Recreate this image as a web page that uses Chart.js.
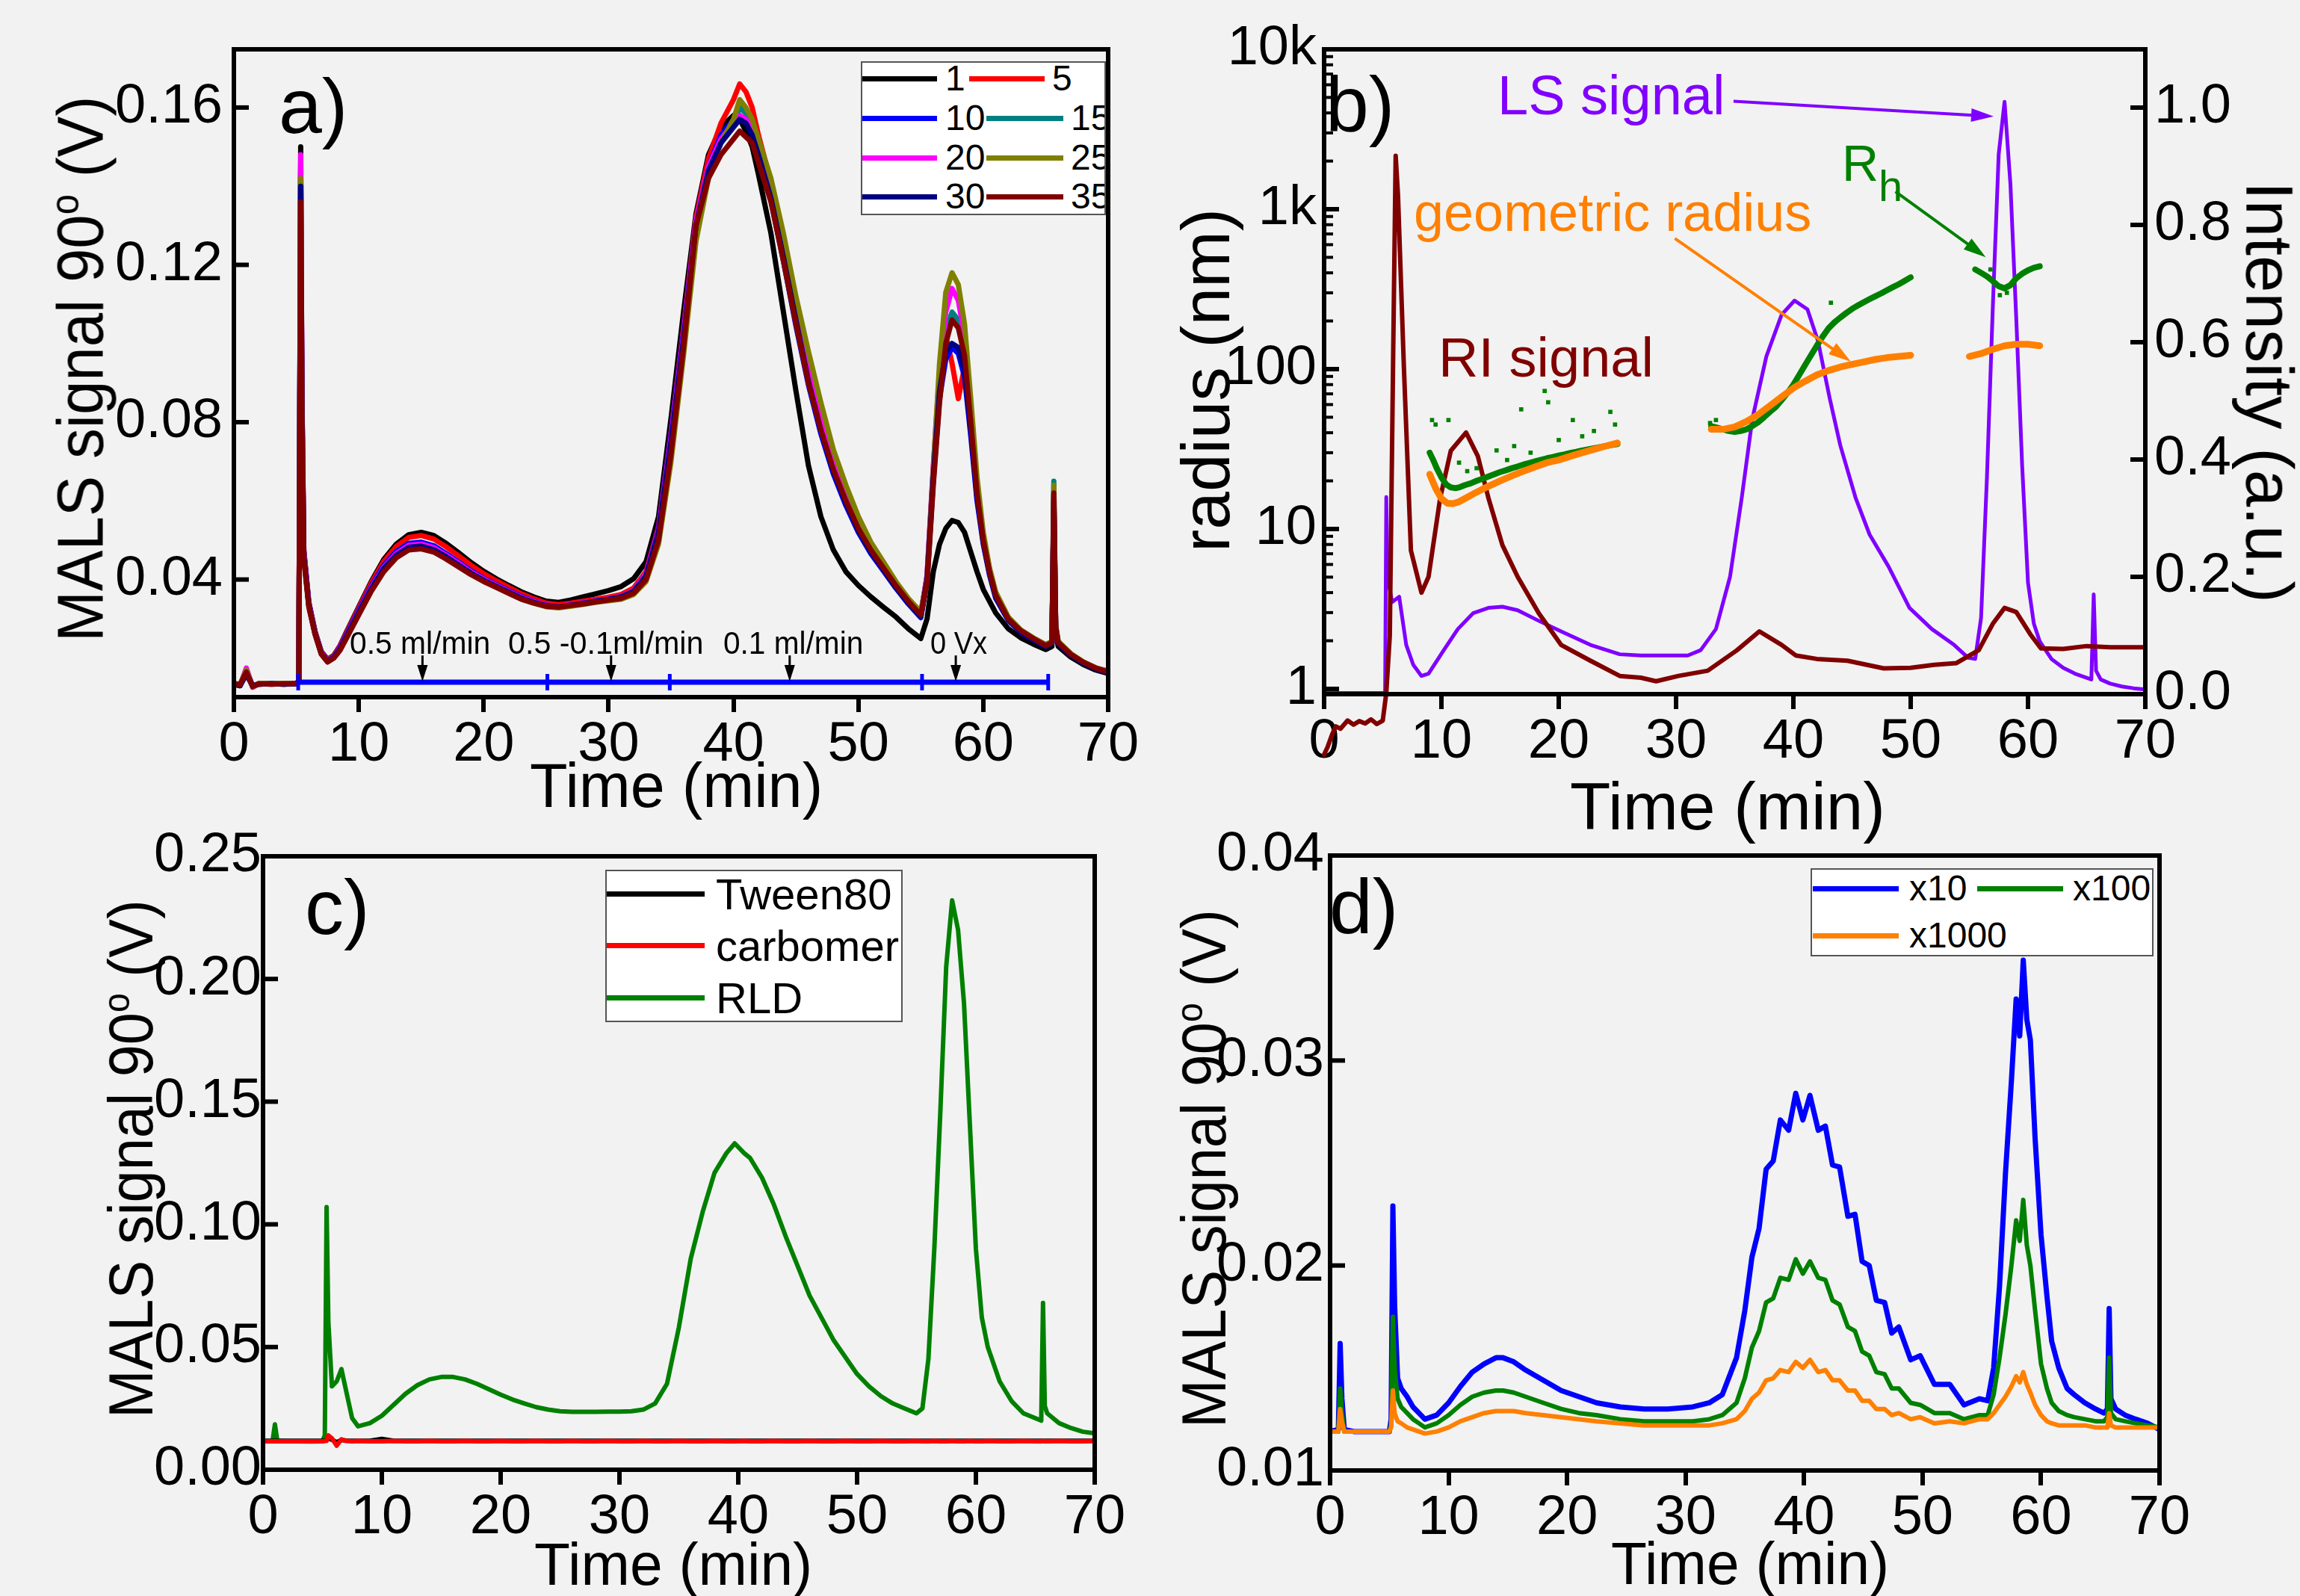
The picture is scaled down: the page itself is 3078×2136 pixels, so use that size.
<!DOCTYPE html>
<html><head><meta charset="utf-8"><title>MALS figure</title>
<script src="https://cdn.jsdelivr.net/npm/chart.js@4.4.1/dist/chart.umd.min.js"></script>
<style>
html,body{margin:0;padding:0;background:#f2f2f2;}
body{width:3078px;height:2136px;position:relative;overflow:hidden;font-family:'Liberation Sans',Arial,Helvetica,sans-serif;}
canvas{position:absolute;}
.t{position:absolute;white-space:nowrap;transform-origin:0 0;color:#000;}
.t sup{font-size:0.6em;position:relative;line-height:0;vertical-align:baseline;top:-0.62em;}
.leg{position:absolute;background:#fff;border:2px solid #555;box-sizing:border-box;overflow:hidden;}
.ll{position:absolute;height:7px;}
</style></head><body>
<canvas id="ca" width="1540" height="1068" style="left:0px;top:0px"></canvas>
<canvas id="cb" width="1538" height="1068" style="left:1540px;top:0px"></canvas>
<canvas id="cc" width="1540" height="1068" style="left:0px;top:1068px"></canvas>
<canvas id="cd" width="1538" height="1068" style="left:1540px;top:1068px"></canvas>
<script>
// ---------------- DATA ----------------
const xTicks = [0,10,20,30,40,50,60,70];
const xLabels = ['0','10','20','30','40','50','60','70'];

// panel a
const yTicksA = [0.04,0.08,0.12,0.16];
const yLabelsA = ['0.04','0.08','0.12','0.16'];
const namesA = ['1','5','10','15','20','25','30','35'];
const tA = [0,0.5,1,1.5,2,3,4,5,5.2,5.35,
 5.45,5.6,6,6.5,7,7.5,8,8.5,9,10,
 11,12,13,14,15,16,17,18,19,20,
 21,22,23,24,25,26,27,28,29,30,
 31,32,33,34,35,36,37,38,39,40,
 40.5,41,41.5,42,43,44,45,46,47,48,
 49,50,51,52,53,54,55,55.5,56,56.5,
 57,57.5,58,58.5,59,59.5,60,60.5,61,62,
 63,64,65,65.5,65.65,65.8,66,67,68,69,
 70];
const a1 = [0.0134,0.0130,0.0172,0.0129,0.0134,0.0135,0.0134,0.0135,0.0143,0.1500,
 0.0870,0.0475,0.0343,0.0268,0.0217,0.0197,0.0207,0.0232,0.0266,0.0331,
 0.0395,0.0451,0.0490,0.0514,0.0520,0.0512,0.0492,0.0468,0.0443,0.0421,
 0.0402,0.0385,0.0369,0.0356,0.0345,0.0342,0.0348,0.0356,0.0364,0.0372,
 0.0382,0.0402,0.0445,0.0560,0.0810,0.1080,0.1330,0.1480,0.1550,0.1580,
 0.1570,0.1540,0.1500,0.1430,0.1280,0.1080,0.0880,0.0690,0.0560,0.0475,
 0.0420,0.0385,0.0356,0.0330,0.0305,0.0275,0.0250,0.0300,0.0420,0.0490,
 0.0530,0.0550,0.0545,0.0520,0.0470,0.0420,0.0375,0.0345,0.0315,0.0275,
 0.0252,0.0236,0.0222,0.0230,0.0560,0.0265,0.0230,0.0203,0.0184,0.0170,
 0.0161];
const a5 = [0.0136,0.0133,0.0168,0.0127,0.0136,0.0135,0.0136,0.0135,0.0141,0.1450,
 0.0860,0.0472,0.0341,0.0267,0.0216,0.0196,0.0206,0.0231,0.0264,0.0328,
 0.0391,0.0446,0.0484,0.0507,0.0512,0.0503,0.0483,0.0460,0.0436,0.0415,
 0.0397,0.0380,0.0364,0.0351,0.0340,0.0336,0.0340,0.0345,0.0350,0.0355,
 0.0362,0.0378,0.0420,0.0535,0.0775,0.1040,0.1320,0.1470,0.1560,0.1620,
 0.1660,0.1640,0.1600,0.1530,0.1410,0.1240,0.1070,0.0920,0.0790,0.0685,
 0.0603,0.0533,0.0478,0.0432,0.0386,0.0345,0.0309,0.0410,0.0680,0.0920,
 0.1020,0.0950,0.0860,0.0940,0.0820,0.0640,0.0510,0.0426,0.0363,0.0303,
 0.0271,0.0251,0.0234,0.0241,0.0600,0.0280,0.0241,0.0211,0.0190,0.0175,
 0.0165];
const a10 = [0.0135,0.0132,0.0158,0.0130,0.0135,0.0135,0.0135,0.0135,0.0142,0.1440,
 0.0850,0.0468,0.0338,0.0265,0.0214,0.0194,0.0204,0.0228,0.0260,0.0322,
 0.0383,0.0436,0.0471,0.0492,0.0495,0.0486,0.0466,0.0444,0.0422,0.0403,
 0.0387,0.0372,0.0357,0.0345,0.0335,0.0331,0.0335,0.0340,0.0345,0.0350,
 0.0356,0.0372,0.0415,0.0530,0.0770,0.1030,0.1310,0.1450,0.1530,0.1570,
 0.1580,0.1565,0.1535,0.1475,0.1365,0.1210,0.1045,0.0895,0.0770,0.0668,
 0.0588,0.0520,0.0466,0.0422,0.0378,0.0338,0.0303,0.0395,0.0650,0.0860,
 0.0960,0.0990,0.0975,0.0915,0.0765,0.0600,0.0490,0.0412,0.0352,0.0296,
 0.0266,0.0247,0.0230,0.0238,0.0615,0.0276,0.0238,0.0208,0.0188,0.0173,
 0.0163];
const a15 = [0.0134,0.0132,0.0162,0.0129,0.0134,0.0135,0.0135,0.0135,0.0141,0.1430,
 0.0840,0.0465,0.0336,0.0263,0.0212,0.0192,0.0202,0.0225,0.0256,0.0318,
 0.0378,0.0430,0.0465,0.0486,0.0489,0.0480,0.0461,0.0440,0.0418,0.0400,
 0.0384,0.0369,0.0354,0.0343,0.0333,0.0330,0.0334,0.0339,0.0344,0.0349,
 0.0354,0.0368,0.0408,0.0515,0.0745,0.1010,0.1300,0.1445,0.1515,0.1560,
 0.1600,0.1585,0.1555,0.1500,0.1395,0.1245,0.1085,0.0935,0.0810,0.0705,
 0.0620,0.0547,0.0488,0.0440,0.0393,0.0350,0.0314,0.0405,0.0670,0.0900,
 0.1030,0.1080,0.1060,0.0990,0.0815,0.0632,0.0505,0.0422,0.0360,0.0301,
 0.0270,0.0250,0.0233,0.0241,0.0650,0.0282,0.0242,0.0211,0.0190,0.0175,
 0.0166];
const a20 = [0.0135,0.0131,0.0175,0.0126,0.0135,0.0134,0.0135,0.0136,0.0143,0.1480,
 0.0860,0.0470,0.0338,0.0264,0.0213,0.0193,0.0203,0.0226,0.0257,0.0318,
 0.0379,0.0431,0.0466,0.0487,0.0490,0.0481,0.0462,0.0441,0.0419,0.0401,
 0.0385,0.0370,0.0355,0.0344,0.0335,0.0332,0.0336,0.0341,0.0346,0.0351,
 0.0357,0.0372,0.0415,0.0525,0.0760,0.1020,0.1310,0.1450,0.1520,0.1560,
 0.1580,0.1570,0.1545,0.1495,0.1390,0.1240,0.1080,0.0930,0.0805,0.0700,
 0.0615,0.0542,0.0484,0.0437,0.0390,0.0348,0.0312,0.0410,0.0690,0.0930,
 0.1080,0.1140,0.1110,0.1020,0.0830,0.0640,0.0508,0.0425,0.0362,0.0302,
 0.0270,0.0250,0.0233,0.0240,0.0610,0.0280,0.0241,0.0211,0.0190,0.0175,
 0.0168];
const a25 = [0.0136,0.0134,0.0170,0.0127,0.0136,0.0135,0.0136,0.0135,0.0141,0.1420,
 0.0820,0.0460,0.0332,0.0262,0.0211,0.0191,0.0201,0.0222,0.0252,0.0313,
 0.0373,0.0424,0.0459,0.0479,0.0482,0.0474,0.0456,0.0436,0.0415,0.0397,
 0.0381,0.0366,0.0351,0.0340,0.0331,0.0328,0.0332,0.0337,0.0342,0.0346,
 0.0350,0.0362,0.0395,0.0490,0.0700,0.0970,0.1260,0.1420,0.1510,0.1570,
 0.1620,0.1600,0.1570,0.1520,0.1420,0.1280,0.1120,0.0980,0.0850,0.0730,
 0.0640,0.0560,0.0495,0.0445,0.0395,0.0352,0.0318,0.0400,0.0680,0.0950,
 0.1130,0.1180,0.1150,0.1050,0.0860,0.0660,0.0520,0.0430,0.0368,0.0305,
 0.0272,0.0252,0.0235,0.0242,0.0640,0.0285,0.0243,0.0212,0.0191,0.0176,
 0.0166];
const a30 = [0.0134,0.0130,0.0160,0.0130,0.0134,0.0135,0.0134,0.0135,0.0142,0.1400,
 0.0820,0.0460,0.0335,0.0262,0.0212,0.0192,0.0202,0.0224,0.0255,0.0316,
 0.0376,0.0428,0.0462,0.0482,0.0485,0.0476,0.0458,0.0437,0.0416,0.0398,
 0.0383,0.0368,0.0353,0.0342,0.0334,0.0331,0.0335,0.0340,0.0345,0.0350,
 0.0356,0.0370,0.0410,0.0520,0.0750,0.1010,0.1300,0.1440,0.1510,0.1550,
 0.1570,0.1560,0.1530,0.1480,0.1370,0.1220,0.1060,0.0905,0.0780,0.0675,
 0.0595,0.0525,0.0470,0.0425,0.0380,0.0340,0.0305,0.0400,0.0660,0.0880,
 0.0980,0.1000,0.0990,0.0930,0.0780,0.0610,0.0495,0.0415,0.0355,0.0298,
 0.0268,0.0248,0.0230,0.0238,0.0600,0.0275,0.0238,0.0208,0.0188,0.0173,
 0.0163];
const a35 = [0.0135,0.0133,0.0165,0.0128,0.0135,0.0134,0.0135,0.0135,0.0140,0.1360,
 0.0800,0.0450,0.0330,0.0260,0.0210,0.0190,0.0200,0.0220,0.0250,0.0310,
 0.0370,0.0420,0.0455,0.0475,0.0478,0.0470,0.0452,0.0432,0.0412,0.0395,
 0.0380,0.0365,0.0350,0.0340,0.0332,0.0330,0.0334,0.0338,0.0343,0.0348,
 0.0352,0.0365,0.0400,0.0500,0.0720,0.0990,0.1300,0.1420,0.1480,0.1520,
 0.1540,0.1525,0.1510,0.1460,0.1360,0.1210,0.1050,0.0900,0.0780,0.0680,
 0.0600,0.0530,0.0475,0.0430,0.0385,0.0345,0.0310,0.0390,0.0640,0.0850,
 0.1000,0.1060,0.1040,0.0970,0.0800,0.0620,0.0500,0.0420,0.0360,0.0300,
 0.0270,0.0250,0.0232,0.0240,0.0620,0.0280,0.0240,0.0210,0.0190,0.0175,
 0.0165];

// panel b
const yTicksB = [1,10,100,1000,10000];
const yLabelsB = ['1','10','100','1k','10k'];
const y2TicksB = [0,0.2,0.4,0.6,0.8,1.0];
const y2LabelsB = ['0.0','0.2','0.4','0.6','0.8','1.0'];
const lsT = [0,2,4,5,5.2,5.3,5.4,5.8,6.4,7,7.6,8.3,8.9,10.2,11.4,12.7,14,15.2,16.5,18.3,20.2,22.7,25.2,27,29,31,32.1,33.4,34.6,35.6,36.5,37.7,39,40.1,41.2,42.1,43.1,44,45.3,46.5,48.1,49.9,51.8,53.7,54.9,55.5,56,56.5,57,57.5,58,58.5,59,59.5,60,60.5,61,62,63,64,65,65.4,65.6,65.8,66.2,67,68,69,70];
const lsV = [0.002,0.002,0.002,0.002,0.003,0.336,0.200,0.157,0.166,0.084,0.050,0.031,0.035,0.075,0.111,0.138,0.147,0.149,0.143,0.125,0.107,0.084,0.068,0.066,0.066,0.066,0.075,0.111,0.200,0.335,0.469,0.576,0.647,0.671,0.656,0.602,0.504,0.424,0.335,0.272,0.218,0.147,0.111,0.084,0.062,0.060,0.130,0.370,0.660,0.920,1.010,0.870,0.640,0.390,0.190,0.120,0.090,0.060,0.045,0.035,0.028,0.025,0.170,0.040,0.025,0.018,0.013,0.010,0.008];
const riT = [0,0.3,0.7,1,1.4,2,2.5,3,3.5,4,4.5,5,5.3,5.6,5.9,6.1,6.3,6.8,7.4,8.3,8.9,9.9,10.8,12.1,13.1,14,15.2,16.5,18.3,20.2,22.7,25.2,27,28.3,30.2,32.7,35.2,37.1,39,40.2,42,44.6,47.7,50,52,53.9,55.8,57,58,59,60.2,61.1,63,65,67,70];
const riV = [-0.103,-0.090,-0.068,-0.055,-0.059,-0.045,-0.052,-0.046,-0.050,-0.043,-0.051,-0.045,0.002,0.100,0.600,0.918,0.850,0.558,0.245,0.173,0.200,0.335,0.415,0.446,0.406,0.335,0.254,0.200,0.138,0.084,0.057,0.031,0.028,0.022,0.031,0.040,0.075,0.107,0.084,0.066,0.060,0.057,0.044,0.045,0.050,0.053,0.075,0.120,0.147,0.140,0.102,0.078,0.077,0.082,0.080,0.080];
const rhT = [9.0,9.3,9.6,10.0,10.4,10.8,11.2,11.6,12,12.5,13,13.5,14,14.5,15,15.5,16,16.5,17,17.5,18,18.5,19,19.5,20,20.5,21,21.5,22,22.5,23,23.5,24,24.5,25,
 29,
 33,33.5,34,34.5,35,35.5,36,36.5,37,37.5,38,38.5,39,39.5,40,40.5,41,41.5,42,42.5,43,43.5,44,44.5,45,45.5,46,46.5,47,47.5,48,48.5,49,49.5,50,
 53,
 55.5,56,56.5,57,57.5,58,58.5,59,59.5,60,60.5,61];
const rhR = [30,27,24,21,19,18.2,18,18.3,18.8,19.3,20,20.6,21.3,22,22.7,23.3,24,24.6,25.3,25.9,26.5,27.1,27.7,28.2,28.8,29.3,29.9,30.4,31,31.5,32,32.5,33,33.5,34,
 null,
 44,43,42,41,40.5,41,42,44,46.5,50,54,58,64,71,80,92,106,122,140,160,180,196,210,224,238,250,262,274,286,298,312,326,340,357,375,
 null,
 420,400,380,355,330,320,335,370,395,415,430,440];
const rhOutT = [9.2,9.5,10.6,11.5,12.2,13,14.7,15.6,16.2,16.8,17.6,18.8,19.1,20,21.2,22,23,24.4,24.8,32.9,33.4,43.2,56.8,57.6,58.2];
const rhOutR = [48,45,48,26,23,24,31,27,33,56,30,73,62,36,48,38,41,54,45,46,48,260,420,290,300];
const grT = [9,9.5,10,10.5,11,11.5,12,13,14,15,16,17,18,19,20,21,22,23,24,25,
 29,
 33,34,35,36,37,38,39,40,41,42,43,44,45,46,47,48,49,50,
 53,
 55,56,57,58,59,60,61];
const grR = [22,18,15.5,14.5,14.4,14.8,15.5,17,18.5,20,21.5,23,24.5,26,27,28.5,30,31.5,33,34.5,
 null,
 42,42,43.5,47,52,59,67,76,84,92,98,103,107,111,115,118,120,122,
 null,
 120,125,133,140,143,143,140];

// panel c
const yTicksC = [0,0.05,0.10,0.15,0.20,0.25];
const yLabelsC = ['0.00','0.05','0.10','0.15','0.20','0.25'];
const tC = [0,0.8,1.0,1.2,2,3,4,5,5.2,5.35,
 5.5,5.8,6.2,6.6,7,7.5,8,9,10,11,
 12,13,14,15,16,17,18,19,20,21,
 22,23,24,25,26,27,28,29,30,31,
 32,33,34,35,36,37,38,39,39.7,40.5,
 41,42,43,44,45,46,47,48,49,50,
 51,52,53,54,55,55.5,56,56.5,57,57.5,
 58,58.5,59,59.5,60,60.5,61,62,63,64,
 65,65.5,65.65,65.8,66,67,68,69,70];
const tween80 = [0.0118,0.0118,0.0118,0.0118,0.0118,0.0118,0.0118,0.0118,0.0119,0.0120,
 0.0128,0.0122,0.0112,0.0121,0.0119,0.0118,0.0118,0.0118,0.0126,0.0118,
 0.0118,0.0118,0.0118,0.0118,0.0118,0.0118,0.0118,0.0118,0.0118,0.0118,
 0.0118,0.0118,0.0118,0.0118,0.0118,0.0118,0.0118,0.0118,0.0118,0.0118,
 0.0118,0.0118,0.0118,0.0118,0.0118,0.0118,0.0118,0.0118,0.0118,0.0118,
 0.0118,0.0118,0.0118,0.0118,0.0118,0.0118,0.0118,0.0118,0.0118,0.0118,
 0.0118,0.0118,0.0118,0.0118,0.0118,0.0118,0.0118,0.0118,0.0118,0.0118,
 0.0118,0.0118,0.0118,0.0118,0.0118,0.0118,0.0118,0.0118,0.0118,0.0118,
 0.0118,0.0118,0.0118,0.0118,0.0118,0.0118,0.0118,0.0118,0.0118];
const carbomer = [0.0116,0.0116,0.0116,0.0116,0.0116,0.0116,0.0116,0.0116,0.0117,0.0118,
 0.0140,0.0128,0.0098,0.0124,0.0117,0.0116,0.0117,0.0116,0.0116,0.0117,
 0.0116,0.0116,0.0117,0.0116,0.0116,0.0117,0.0116,0.0116,0.0117,0.0116,
 0.0116,0.0117,0.0116,0.0116,0.0117,0.0116,0.0116,0.0117,0.0116,0.0116,
 0.0117,0.0116,0.0116,0.0117,0.0116,0.0116,0.0117,0.0116,0.0116,0.0117,
 0.0116,0.0116,0.0117,0.0116,0.0116,0.0117,0.0116,0.0116,0.0117,0.0116,
 0.0116,0.0117,0.0116,0.0116,0.0117,0.0116,0.0116,0.0117,0.0116,0.0116,
 0.0117,0.0116,0.0116,0.0117,0.0116,0.0116,0.0117,0.0116,0.0116,0.0117,
 0.0116,0.0116,0.0117,0.0116,0.0116,0.0117,0.0116,0.0116,0.0117];
const rld = [0.0116,0.0116,0.0185,0.0118,0.0116,0.0116,0.0115,0.0116,0.0140,0.1070,
 0.0600,0.0340,0.0360,0.0410,0.0320,0.0210,0.0177,0.0190,0.0220,0.0265,
 0.0310,0.0345,0.0368,0.0378,0.0378,0.0368,0.0350,0.0328,0.0306,0.0286,
 0.0270,0.0255,0.0245,0.0238,0.0236,0.0236,0.0236,0.0237,0.0237,0.0238,
 0.0245,0.0270,0.0350,0.0580,0.0860,0.1050,0.1210,0.1290,0.1330,0.1290,
 0.1270,0.1190,0.1080,0.0950,0.0830,0.0710,0.0620,0.0530,0.0460,0.0390,
 0.0340,0.0300,0.0270,0.0250,0.0230,0.0250,0.0450,0.0900,0.1450,0.2050,
 0.2320,0.2200,0.1900,0.1400,0.0900,0.0620,0.0500,0.0360,0.0280,0.0230,
 0.0210,0.0200,0.0680,0.0260,0.0230,0.0190,0.0170,0.0155,0.0148];

// panel d
const yTicksD = [0.01,0.02,0.03,0.04];
const yLabelsD = ['0.01','0.02','0.03','0.04'];
const tD = [0,0.7,0.85,1.0,1.2,2,3,4,5,5.15,
 5.3,5.45,5.7,6,6.5,7,7.5,8,9,10,
 11,12,13,14,14.6,15.5,16.5,18,19.5,21,
 22.5,24.5,26.5,28.5,30.6,32,33.1,34.3,35,35.6,
 36.2,36.8,37.4,38,38.7,39.3,39.9,40.5,41.2,41.8,
 42.4,43,43.7,44.3,44.9,45.5,46.1,46.8,47.4,48,
 49,49.8,51,52.3,53.5,54.8,55.5,56,56.5,57,
 57.5,57.9,58.2,58.5,58.8,59.1,59.5,60,60.5,60.9,
 61.5,62.2,62.8,63.7,64.6,65.3,65.6,65.75,65.9,66.3,
 67.1,68,69,70];
const x10 = [0.0119,0.0120,0.0162,0.0135,0.0120,0.0119,0.0119,0.0119,0.0119,0.0125,
 0.0229,0.0180,0.0145,0.0140,0.0136,0.0131,0.0128,0.0125,0.0127,0.0133,
 0.0141,0.0148,0.0152,0.0155,0.0155,0.0153,0.0149,0.0144,0.0139,0.0136,
 0.0133,0.0131,0.0130,0.0130,0.0131,0.0133,0.0137,0.0155,0.0178,0.0204,
 0.0218,0.0247,0.0251,0.0271,0.0266,0.0284,0.0271,0.0283,0.0266,0.0268,
 0.0249,0.0248,0.0224,0.0225,0.0202,0.0200,0.0183,0.0182,0.0167,0.0170,
 0.0154,0.0156,0.0142,0.0142,0.0132,0.0135,0.0134,0.0150,0.0190,0.0245,
 0.0290,0.0330,0.0312,0.0349,0.0320,0.0310,0.0262,0.0215,0.0185,0.0163,
 0.0150,0.0140,0.0137,0.0133,0.0130,0.0128,0.0130,0.0179,0.0135,0.0130,
 0.0127,0.0125,0.0123,0.0120];
const x100 = [0.0119,0.0119,0.0140,0.0128,0.0119,0.0119,0.0119,0.0119,0.0119,0.0122,
 0.0175,0.0150,0.0135,0.0131,0.0128,0.0125,0.0123,0.0121,0.0123,0.0127,
 0.0132,0.0136,0.0138,0.0139,0.0139,0.0138,0.0136,0.0133,0.0130,0.0128,
 0.0127,0.0125,0.0124,0.0124,0.0124,0.0125,0.0127,0.0133,0.0145,0.0160,
 0.0168,0.0182,0.0184,0.0194,0.0193,0.0203,0.0196,0.0202,0.0194,0.0193,
 0.0183,0.0181,0.0170,0.0168,0.0158,0.0156,0.0148,0.0147,0.0140,0.0140,
 0.0133,0.0132,0.0128,0.0128,0.0125,0.0127,0.0127,0.0137,0.0155,0.0176,
 0.0200,0.0222,0.0212,0.0232,0.0210,0.0200,0.0178,0.0152,0.0140,0.0133,
 0.0129,0.0127,0.0126,0.0125,0.0124,0.0124,0.0126,0.0155,0.0128,0.0125,
 0.0124,0.0123,0.0122,0.0121];
const x1000 = [0.0119,0.0119,0.0130,0.0124,0.0119,0.0119,0.0119,0.0119,0.0119,0.0121,
 0.0139,0.0128,0.0124,0.0123,0.0121,0.0120,0.0119,0.0118,0.0119,0.0121,
 0.0124,0.0126,0.0128,0.0129,0.0129,0.0129,0.0128,0.0127,0.0126,0.0125,
 0.0124,0.0123,0.0122,0.0122,0.0122,0.0122,0.0123,0.0125,0.0129,0.0135,
 0.0138,0.0144,0.0145,0.0149,0.0148,0.0153,0.0150,0.0154,0.0148,0.0149,
 0.0144,0.0144,0.0139,0.0139,0.0134,0.0134,0.0130,0.0130,0.0127,0.0128,
 0.0125,0.0126,0.0123,0.0124,0.0123,0.0125,0.0125,0.0128,0.0132,0.0136,
 0.0141,0.0146,0.0143,0.0148,0.0142,0.0138,0.0132,0.0127,0.0124,0.0123,
 0.0122,0.0122,0.0122,0.0122,0.0121,0.0121,0.0121,0.0128,0.0122,0.0121,
 0.0121,0.0121,0.0121,0.0121];

// ---------------- RENDERING ----------------
const FONT = "'Liberation Sans', Arial, Helvetica, sans-serif";
const pts = (t, v) => t.map((x, i) => ({x: x, y: v[i]}));
function seg(ctx, x1, y1, x2, y2) { ctx.beginPath(); ctx.moveTo(x1, y1); ctx.lineTo(x2, y2); ctx.stroke(); }

const framePlugin = {
  id: 'frame',
  afterDraw(chart) {
    const ctx = chart.ctx, a = chart.chartArea;
    ctx.save(); ctx.strokeStyle = '#000'; ctx.lineCap = 'butt';
    Object.values(chart.scales).forEach(s => {
      if (s.axis !== 'y') return;
      const left = s.position === 'left', x0 = left ? a.left : a.right, d = left ? 1 : -1;
      ctx.lineWidth = 6;
      s.ticks.forEach(t => { const y = s.getPixelForValue(t.value); seg(ctx, x0, y, x0 + d * 20, y); });
      if (s.type === 'logarithmic') {
        ctx.lineWidth = 4;
        for (let e = Math.floor(Math.log10(s.min)); e <= Math.ceil(Math.log10(s.max)); e++) {
          for (let m = 2; m <= 9; m++) {
            const v = m * Math.pow(10, e);
            if (v < s.min || v > s.max) continue;
            const y = s.getPixelForValue(v); seg(ctx, x0, y, x0 + d * 12, y);
          }
        }
      }
    });
    ctx.lineWidth = 6; ctx.strokeRect(a.left, a.top, a.right - a.left, a.bottom - a.top);
    ctx.restore();
  }
};

function makeAnnot(spec) {
  return { id: 'annot', afterDatasetsDraw(chart) {
    const ctx = chart.ctx, xs = chart.scales.x;
    ctx.save(); ctx.lineCap = 'butt';
    (spec.lines || []).forEach(L => {
      const ys = chart.scales[L.axis || 'y'];
      ctx.strokeStyle = L.color; ctx.lineWidth = L.width; ctx.beginPath();
      L.pts.forEach((p, i) => { const X = xs.getPixelForValue(p[0]), Y = ys.getPixelForValue(p[1]); if (i) ctx.lineTo(X, Y); else ctx.moveTo(X, Y); });
      ctx.stroke();
      (L.ticks || []).forEach(tx => { const X = xs.getPixelForValue(tx), Y = ys.getPixelForValue(L.pts[0][1]); ctx.lineWidth = L.tickWidth; seg(ctx, X, Y - L.tickHalf, X, Y + L.tickHalf); });
    });
    (spec.arrows || []).forEach(A => {
      const ys = chart.scales[A.axis || 'y'];
      const X1 = xs.getPixelForValue(A.x1), Y1 = ys.getPixelForValue(A.y1), X2 = xs.getPixelForValue(A.x2), Y2 = ys.getPixelForValue(A.y2);
      const ang = Math.atan2(Y2 - Y1, X2 - X1), hl = A.head, hw = A.half;
      const bx = X2 - hl * Math.cos(ang), by = Y2 - hl * Math.sin(ang);
      ctx.strokeStyle = A.color; ctx.fillStyle = A.color; ctx.lineWidth = A.width;
      seg(ctx, X1, Y1, bx + 2 * Math.cos(ang), by + 2 * Math.sin(ang));
      ctx.beginPath(); ctx.moveTo(X2, Y2);
      ctx.lineTo(bx - hw * Math.sin(ang), by + hw * Math.cos(ang));
      ctx.lineTo(bx + hw * Math.sin(ang), by - hw * Math.cos(ang));
      ctx.closePath(); ctx.fill();
    });
    ctx.restore();
  }};
}

function xAx(h) {
  return { type: 'linear', position: 'bottom', min: 0, max: 70,
    afterBuildTicks: s => { s.ticks = xTicks.map(v => ({value: v})); },
    afterFit: s => { s.height = h; },
    ticks: { font: {family: FONT, size: 74}, color: '#000', padding: 0, maxRotation: 0, minRotation: 0, autoSkip: false, callback: (v, i) => xLabels[i] },
    grid: { display: true, drawOnChartArea: false, drawTicks: true, tickLength: 20, tickWidth: 6, lineWidth: 6, color: '#000', tickColor: '#000' },
    border: { display: false } };
}
function yAx(o) {
  return { type: o.type || 'linear', position: o.pos || 'left', min: o.min, max: o.max,
    afterBuildTicks: s => { s.ticks = o.ticks.map(v => ({value: v})); },
    afterFit: s => { s.width = o.w; },
    ticks: { font: {family: FONT, size: 74}, color: '#000', padding: o.pad, autoSkip: false, callback: (v, i) => o.labels[i] },
    grid: { display: false, drawTicks: false }, border: { display: false } };
}
function opts(scales, pad) {
  return { responsive: false, animation: false, devicePixelRatio: 1, events: [],
    layout: { padding: pad }, scales: scales,
    plugins: { legend: { display: false }, tooltip: { enabled: false } },
    elements: { line: { tension: 0, borderJoinStyle: 'round', borderCapStyle: 'round' }, point: { radius: 0 } } };
}
function lineDs(label, data, color, width, order, extra) {
  return Object.assign({ label: label, data: data, borderColor: color, backgroundColor: color, borderWidth: width, pointRadius: 0, fill: false, order: order }, extra || {});
}

// panel a
const colorsA = ['#000000','#ff0000','#0000ff','#008080','#ff00ff','#808000','#000080','#800000'];
const seriesA = [a1, a5, a10, a15, a20, a25, a30, a35];
new Chart(document.getElementById('ca'), {
  type: 'line',
  data: { datasets: seriesA.map((v, i) => lineDs(namesA[i], pts(tA, v), colorsA[i], 7, 7 - i)) },
  options: opts({ x: xAx(135), y: yAx({min: 0.0101, max: 0.1748, ticks: yTicksA, labels: yLabelsA, w: 313, pad: 15}) },
    { left: 0, top: 66, right: 57, bottom: 0 }),
  plugins: [framePlugin, makeAnnot({
    lines: [{ pts: [[5.15, 0.0139], [65.2, 0.0139]], color: '#0000ff', width: 7, ticks: [5.15, 25.1, 34.9, 55.1, 65.2], tickHalf: 11, tickWidth: 5 }],
    arrows: [15.1, 30.2, 44.5, 57.8].map(x => ({ x1: x, y1: 0.0207, x2: x, y2: 0.0141, color: '#000', width: 3, head: 22, half: 7 }))
  })]
});

// panel b
new Chart(document.getElementById('cb'), {
  type: 'line',
  data: { datasets: [
    lineDs('LS signal', pts(lsT, lsV), '#8000ff', 5, 4, { yAxisID: 'y2' }),
    lineDs('RI signal', pts(riT, riV), '#800000', 6, 3, { yAxisID: 'y2', clip: false }),
    lineDs('Rh', pts(rhT, rhR), '#008000', 8, 2, { yAxisID: 'y', pointRadius: 4, pointStyle: 'rect', pointBorderWidth: 0, pointBackgroundColor: '#008000' }),
    lineDs('Rh scatter', pts(rhOutT, rhOutR), '#008000', 0, 2, { yAxisID: 'y', showLine: false, pointRadius: 4, pointStyle: 'rect', pointBorderWidth: 0, pointBackgroundColor: '#008000' }),
    lineDs('geometric radius', pts(grT, grR), '#ff8000', 9, 1, { yAxisID: 'y' })
  ] },
  options: opts({ x: xAx(139),
    y: yAx({type: 'logarithmic', min: 0.927, max: 10000, ticks: yTicksB, labels: yLabelsB, w: 232, pad: 10}),
    y2: yAx({pos: 'right', min: 0, max: 1.0994, ticks: y2TicksB, labels: y2LabelsB, w: 207, pad: 12}) },
    { left: 0, top: 66, right: 0, bottom: 0 }),
  plugins: [framePlugin, makeAnnot({
    arrows: [
      { x1: 34.9, y1: 1.011, x2: 57.07, y2: 0.985, axis: 'y2', color: '#8000ff', width: 4, head: 30, half: 9 },
      { x1: 29.9, y1: 0.777, x2: 44.9, y2: 0.567, axis: 'y2', color: '#ff8000', width: 4, head: 30, half: 9 },
      { x1: 48.7, y1: 0.857, x2: 56.4, y2: 0.745, axis: 'y2', color: '#008000', width: 4, head: 30, half: 9 }
    ]
  })]
});

// panel c
new Chart(document.getElementById('cc'), {
  type: 'line',
  data: { datasets: [
    lineDs('Tween80', pts(tC, tween80), '#000000', 6, 1),
    lineDs('carbomer', pts(tC, carbomer), '#ff0000', 6, 0),
    lineDs('RLD', pts(tC, rld), '#008000', 6, 2)
  ] },
  options: opts({ x: xAx(169), y: yAx({min: 0, max: 0.25, ticks: yTicksC, labels: yLabelsC, w: 352, pad: 2}) },
    { left: 0, top: 78, right: 75, bottom: 0 }),
  plugins: [framePlugin]
});

// panel d
new Chart(document.getElementById('cd'), {
  type: 'line',
  data: { datasets: [
    lineDs('x10', pts(tD, x10), '#0000ff', 7, 2),
    lineDs('x100', pts(tD, x100), '#008000', 6, 1),
    lineDs('x1000', pts(tD, x1000), '#ff8000', 6, 0)
  ] },
  options: opts({ x: xAx(168), y: yAx({min: 0.01, max: 0.04, ticks: yTicksD, labels: yLabelsD, w: 240, pad: 8}) },
    { left: 0, top: 77, right: 188, bottom: 0 }),
  plugins: [framePlugin]
});

// ---------------- TEXT OVERLAYS ----------------
function txt(html, o, parent) {
  const d = document.createElement('div'); d.className = 't'; d.innerHTML = html;
  d.style.fontSize = o.f + 'px'; d.style.lineHeight = o.f + 'px'; if (o.c) d.style.color = o.c;
  (parent || document.body).appendChild(d);
  const w = d.offsetWidth, b = 0.8465 * o.f, ax = o.al === 'c' ? w / 2 : 0;
  const sx = o.len ? o.len / w : 1;
  d.style.left = o.x + 'px'; d.style.top = o.y + 'px';
  d.style.transform = 'rotate(' + (o.r || 0) + 'deg) scaleX(' + sx + ') translate(' + (-ax) + 'px,' + (-b) + 'px)';
  return d;
}
const MALS = 'MALS signal 90<sup>o</sup> (V)';
// axis titles
txt('Time (min)', {x: 905, y: 1080, f: 84, al: 'c', len: 392});
txt('Time (min)', {x: 2312, y: 1110, f: 89, al: 'c'});
txt('Time (min)', {x: 901, y: 2122, f: 80, al: 'c', len: 372});
txt('Time (min)', {x: 2342, y: 2121, f: 80, al: 'c', len: 372});
txt(MALS, {x: 138, y: 494, f: 88, al: 'c', r: -90, len: 730});
txt(MALS, {x: 204, y: 1551, f: 84, al: 'c', r: -90, len: 694});
txt(MALS, {x: 1640, y: 1564, f: 84, al: 'c', r: -90, len: 694});
txt('radius (nm)', {x: 1645, y: 509, f: 91, al: 'c', r: -90});
txt('Intensity (a.u.)', {x: 3006, y: 525, f: 89, al: 'c', r: 90});
// panel letters
txt('a)', {x: 373, y: 178, f: 104});
txt('b)', {x: 1774, y: 175, f: 104});
txt('c)', {x: 408, y: 1250, f: 104});
txt('d)', {x: 1779, y: 1249, f: 104});
// panel a notes
txt('0.5 ml/min', {x: 468, y: 875, f: 43, len: 188});
txt('0.5 -0.1ml/min', {x: 680, y: 875, f: 43, len: 261});
txt('0.1 ml/min', {x: 968, y: 875, f: 43, len: 187});
txt('0 Vx', {x: 1245, y: 875, f: 43, len: 76});
// panel b notes
txt('LS signal', {x: 2004, y: 154, f: 74, c: '#8000ff'});
txt('geometric radius', {x: 1892, y: 309, f: 72, c: '#ff8000'});
txt('R<span style="font-size:0.85em;position:relative;top:0.47em;line-height:0">h</span>', {x: 2465, y: 242, f: 68, c: '#008000'});
txt('RI signal', {x: 1925, y: 505, f: 74, c: '#800000'});

// legends
function legend(box, items, f) {
  const d = document.createElement('div'); d.className = 'leg';
  Object.assign(d.style, { left: box[0] + 'px', top: box[1] + 'px', width: (box[2] - box[0]) + 'px', height: (box[3] - box[1]) + 'px' });
  document.body.appendChild(d);
  const ox = box[0] + 2, oy = box[1] + 2;
  items.forEach(it => {
    const l = document.createElement('div'); l.className = 'll';
    Object.assign(l.style, { left: (it.x1 - ox) + 'px', top: (it.y - 3.5 - oy) + 'px', width: (it.x2 - it.x1) + 'px', background: it.c });
    d.appendChild(l);
    txt(it.t, { x: it.lx - ox, y: it.y + 0.358 * f - oy, f: f }, d);
  });
}
legend([1152, 82, 1480, 288], [
  {t: namesA[0], c: colorsA[0], x1: 1152, x2: 1254, y: 105, lx: 1265},
  {t: namesA[1], c: colorsA[1], x1: 1297, x2: 1398, y: 105, lx: 1408},
  {t: namesA[2], c: colorsA[2], x1: 1152, x2: 1254, y: 158, lx: 1265},
  {t: namesA[3], c: colorsA[3], x1: 1320, x2: 1423, y: 158, lx: 1433},
  {t: namesA[4], c: colorsA[4], x1: 1152, x2: 1254, y: 211, lx: 1265},
  {t: namesA[5], c: colorsA[5], x1: 1320, x2: 1423, y: 211, lx: 1433},
  {t: namesA[6], c: colorsA[6], x1: 1152, x2: 1254, y: 263, lx: 1265},
  {t: namesA[7], c: colorsA[7], x1: 1320, x2: 1423, y: 263, lx: 1433}
], 48);
legend([810, 1164, 1208, 1368], [
  {t: 'Tween80', c: '#000000', x1: 812, x2: 943, y: 1196, lx: 958},
  {t: 'carbomer', c: '#ff0000', x1: 812, x2: 943, y: 1265, lx: 958},
  {t: 'RLD', c: '#008000', x1: 812, x2: 943, y: 1335, lx: 958}
], 58);
legend([2423, 1162, 2882, 1280], [
  {t: 'x10', c: '#0000ff', x1: 2426, x2: 2541, y: 1189, lx: 2555},
  {t: 'x100', c: '#008000', x1: 2646, x2: 2761, y: 1189, lx: 2774},
  {t: 'x1000', c: '#ff8000', x1: 2426, x2: 2541, y: 1252, lx: 2555}
], 48);
</script>
</body></html>
